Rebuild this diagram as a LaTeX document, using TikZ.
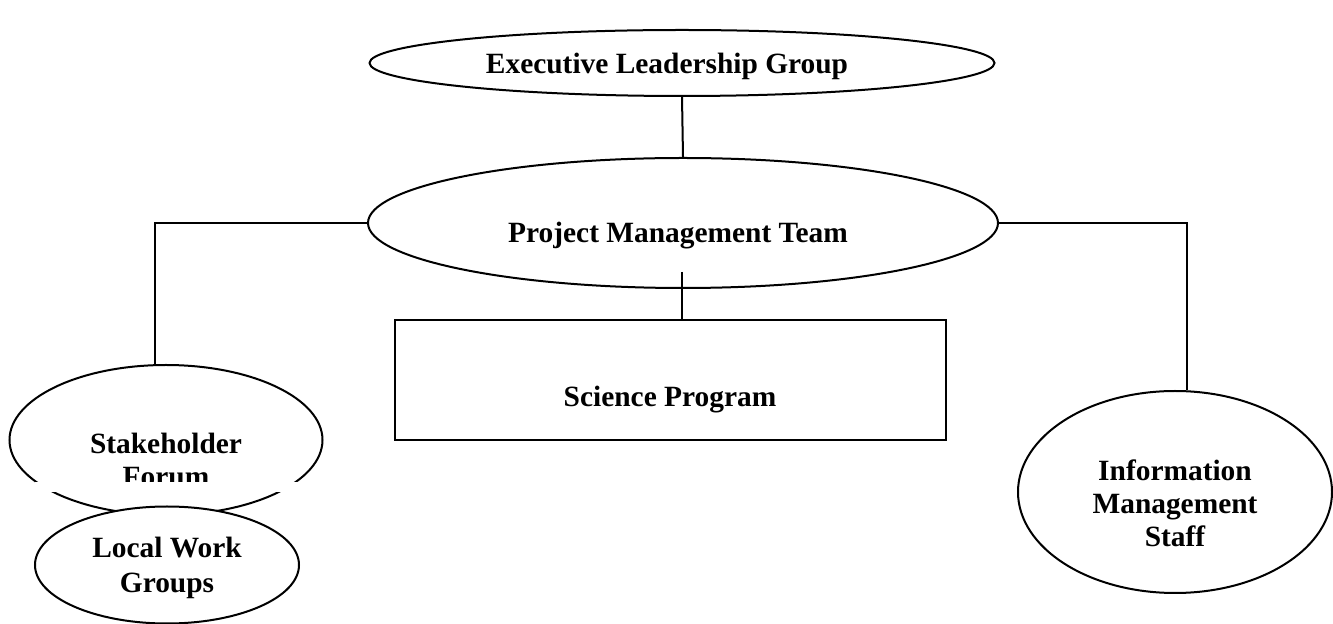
\documentclass[tikz,border=0pt]{standalone}
\usepackage{fontspec}
\setmainfont{Liberation Serif}
\usepackage{tikz}
\usetikzlibrary{shapes.geometric}
\tikzset{
    oval/.style={
      ellipse,
      draw=black, line width=1pt,
      fill=white,
      inner sep=0pt,
    },
    block/.style={
      rectangle,
      draw=black, line width=1pt,
      fill=white,
      inner sep=0pt,
    },
    caption/.style={
      font=\fontsize{14.7}{16.5}\selectfont\bfseries,
      align=center,
      inner sep=0pt,
    },
}

\begin{document}
\begin{tikzpicture}[x=0.5pt,y=-0.5pt,line width=1pt]

    \useasboundingbox (0,0) rectangle (1333,624);

    % the two groups on top
    \node[oval, minimum width=312.5pt, minimum height=33pt] (exec) at (682,63) {};
    \node[caption] (exec-t) at (667,66) {Executive Leadership Group};

    \node[oval, minimum width=315pt, minimum height=65pt] (pmt) at (683,223) {};
    \node[caption] (pmt-t) at (678,236) {Project Management Team};

    \draw (exec.south) -- (pmt.north);

    % science program
    \node[block, minimum width=275.5pt, minimum height=60pt] (sci) at (670.5,380) {};
    \node[caption] (sci-t) at (670,400) {Science Program};

    \coordinate (pmt-foot) at (682,272);
    \draw (pmt-foot) -- (sci.north -| pmt-foot);

    % stakeholder forum, cut by a white strip
    \node[oval, minimum width=156.5pt, minimum height=75pt] (stake) at (166,440) {};
    \node[caption] (stake-t) at (166,460)
    {
      Stakeholder \\
      Forum
    };
    \fill[white] (35,482) rectangle (299,492);

    \node[oval, minimum width=132pt, minimum height=58.5pt] (lwg) at (167,565) {};
    \node[caption, font=\fontsize{14.7}{17.5}\selectfont\bfseries] (lwg-t) at (167,568)
    {
      Local Work \\
      Groups
    };

    % information management
    \node[oval, minimum width=157pt, minimum height=101pt] (info) at (1175,492) {};
    \node[caption] (info-t) at (1175,503)
    {
      Information \\
      Management \\
      Staff
    };

    \draw (pmt.west) -| ([xshift=-5.5pt]stake.north);
    \draw (pmt.east) -| ([xshift=6pt]info.north);

\end{tikzpicture}
\end{document}
